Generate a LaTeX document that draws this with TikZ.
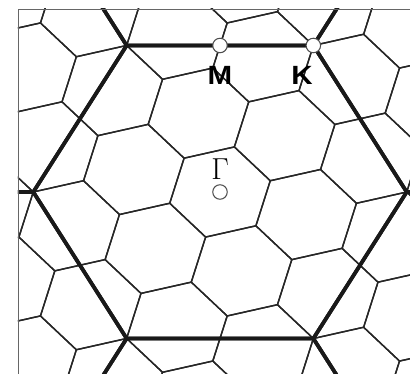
\documentclass[tikz,border=0pt]{standalone}
\usepackage{fontspec}
\newfontfamily\hsfont{Liberation Sans}
\usetikzlibrary{positioning}
\begin{document}
\begin{tikzpicture}[x=1.0356cm, y=0.9384cm,
	small/.style={line width=0.8pt, black!85},
	zone/.style={line width=2.1pt, black!90},
	frame/.style={line width=0.5pt, black!60},
	pt/.style={circle, draw=black!70, line width=0.6pt, fill=white, inner sep=0pt, minimum size=0.29cm},
	lab/.style={font=\hsfont\bfseries\fontsize{15}{17}\selectfont, inner sep=0pt, xscale=1.12, transform shape}]
	\useasboundingbox (-4.4cm,-3.64cm) rectangle (3.8cm,3.84cm);
	\begin{scope}
		\clip (-4.04cm,-3.8cm) rectangle (4cm,3.66cm);
		\foreach \i in {-5,...,5}
			\foreach \j in {-5,...,5}
				\draw[small, shift={({1.2483*\i-0.4160*(\j)},{1.2007*\i+1.6813*\j})}]
				(13.898:1) -- (73.898:1) -- (133.898:1) -- (193.898:1) -- (253.898:1) -- (313.898:1) -- cycle;
		\foreach \i in {-2,...,2}
			\foreach \j in {-2,...,2}
				\draw[zone, shift={({5.4083*\i},{3.1225*\i+6.2450*\j})}]
				(0:3.6056) -- (60:3.6056) -- (120:3.6056) -- (180:3.6056) -- (240:3.6056) -- (300:3.6056) -- cycle;
	\end{scope}
	\draw[frame] (4cm,3.66cm) -| (-4.04cm,-3.8cm);
	\node[pt] (G) at (0,0) {};
	\node[pt] (M) at (0,3.1225) {};
	\node[pt] (K) at (60:3.6056) {};
	\node[lab, below=0.25cm of M] (Mlab) {M};
	\node[lab, below=0.25cm of K, xshift=-0.2cm] (Klab) {K};
	\node[inner sep=0pt, font=\fontsize{18}{21}\selectfont, above=0.08cm of G] (Glab) {$\Gamma$};
\end{tikzpicture}
\end{document}
